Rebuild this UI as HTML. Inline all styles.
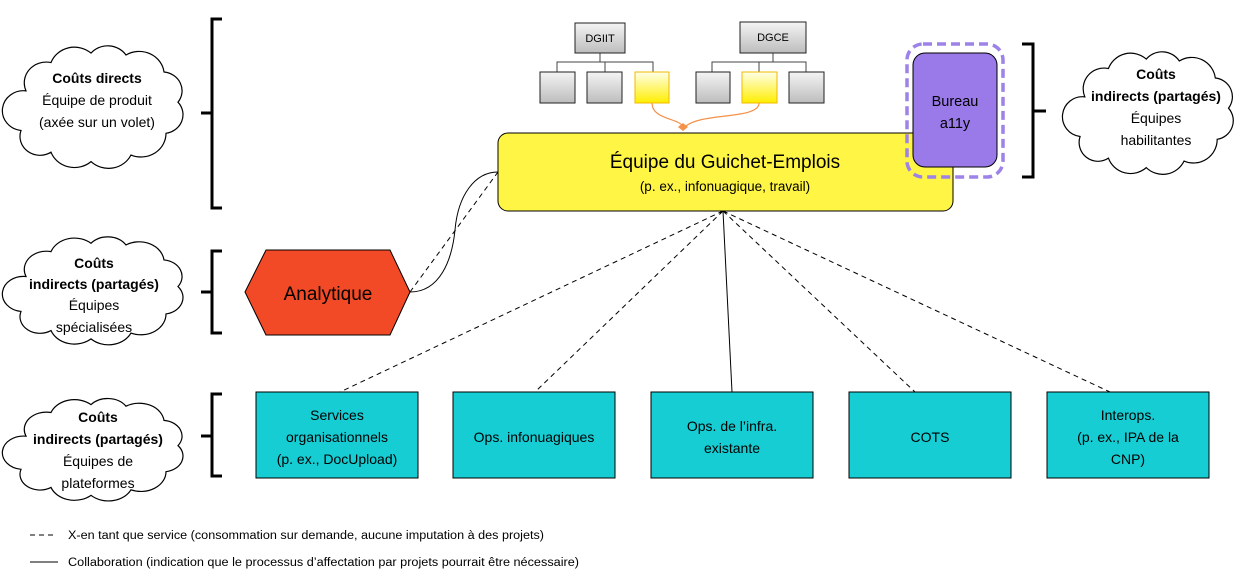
<!DOCTYPE html>
<html><head><meta charset="utf-8"><style>
html,body{margin:0;padding:0;background:#fff;}
svg{display:block;font-family:"Liberation Sans",sans-serif;}
</style></head><body>
<svg width="1241" height="583" viewBox="0 0 1241 583" xmlns="http://www.w3.org/2000/svg">
<defs>
<symbol id="cl" viewBox="-2 -6 184 142" preserveAspectRatio="none" overflow="visible">
<path d="M20,50 A22,22 0 0 1 45,20 A25,25 0 0 1 85,10 A22,22 0 0 1 120,12 A25,25 0 0 1 158,30 A20,20 0 0 1 172,62 A20,20 0 0 1 160,95 A25,25 0 0 1 125,118 A25,25 0 0 1 85,125 A25,25 0 0 1 45,115 A20,20 0 0 1 15,92 A20,20 0 0 1 20,50 Z" fill="#fff" stroke="#000" stroke-width="1.2" vector-effect="non-scaling-stroke"/>
</symbol>
<linearGradient id="g" x1="0" y1="0" x2="0" y2="1"><stop offset="0" stop-color="#f4f4f4"/><stop offset="1" stop-color="#bdbdbd"/></linearGradient>
<linearGradient id="y" x1="0" y1="0" x2="0" y2="1"><stop offset="0" stop-color="#ffffe8"/><stop offset="1" stop-color="#ffee00"/></linearGradient>
</defs>

<!-- clouds -->
<use href="#cl" x="4" y="38" width="184" height="134"/>
<use href="#cl" x="4" y="230" width="184" height="118"/>
<use href="#cl" x="4" y="392" width="184" height="112"/>
<use href="#cl" x="1064" y="44" width="174" height="134"/>

<g font-size="14" text-anchor="middle">
<text x="97" y="83" font-weight="bold">Coûts directs</text>
<text x="97" y="105">Équipe de produit</text>
<text x="97" y="127">(axée sur un volet)</text>

<text x="94" y="268" font-weight="bold">Coûts</text>
<text x="94" y="289" font-weight="bold">indirects (partagés)</text>
<text x="94" y="310">Équipes</text>
<text x="94" y="332">spécialisées</text>

<text x="98" y="422" font-weight="bold">Coûts</text>
<text x="98" y="444" font-weight="bold">indirects (partagés)</text>
<text x="98" y="466">Équipes de</text>
<text x="98" y="488">plateformes</text>

<text x="1156" y="79" font-weight="bold">Coûts</text>
<text x="1156" y="101" font-weight="bold">indirects (partagés)</text>
<text x="1156" y="123">Équipes</text>
<text x="1156" y="145">habilitantes</text>
</g>

<!-- brackets -->
<g fill="none" stroke="#000" stroke-width="3">
<path d="M222,19 H212 V208 H222 M212,113 H201"/>
<path d="M222,251 H212 V333 H222 M212,292 H201"/>
<path d="M222,394 H212 V476 H222 M212,436 H201"/>
<path d="M1022,44 H1033 V177 H1022 M1033,111 H1046"/>
</g>

<!-- org chart -->
<g stroke="#444" stroke-width="1" fill="none">
<path d="M600,53 V62 M557,72 V62 H653 V72 M605,62 V72"/>
<path d="M773,53 V62 M712,72 V62 H806 V72 M759,62 V72"/>
</g>
<g stroke="#222" stroke-width="1">
<rect x="575" y="23" width="50" height="30" fill="url(#g)"/>
<rect x="740" y="22" width="66" height="31" fill="url(#g)"/>
<rect x="540" y="72" width="35" height="31" fill="url(#g)"/>
<rect x="587" y="72" width="35" height="31" fill="url(#g)"/>
<rect x="696" y="72" width="34" height="31" fill="url(#g)"/>
<rect x="789" y="72" width="35" height="31" fill="url(#g)"/>
</g>
<rect x="635" y="72" width="34" height="31" fill="url(#y)" stroke="#f0b800"/>
<rect x="742" y="72" width="35" height="31" fill="url(#y)" stroke="#f0b800"/>
<g font-size="11" text-anchor="middle"><text x="600" y="42">DGIIT</text><text x="773" y="41">DGCE</text></g>
<path d="M652,103 C652,120 680,118 683,127 M759,103 C759,120 700,112 685,127" fill="none" stroke="#f4914a" stroke-width="1.2"/>
<path d="M678,127 L683,123 L688,127 L683,131 Z" fill="#f4914a"/>

<!-- connectors -->
<g stroke="#000" stroke-width="1" fill="none">
<g stroke-dasharray="5,4">
<path d="M723,211 L340,392 M723,211 L535,392 M723,211 L915,392 M723,211 L1110,392"/>
<path d="M410,292 L498,172"/>
<path d="M30,535 H56"/>
</g>
<path d="M723,211 L732,392"/>
<path d="M410,292 C440,292 452,260 455,230 C458,195 475,172 498,172"/>
<path d="M30,562 H58"/>
</g>

<!-- main yellow box -->
<rect x="498" y="133" width="455" height="78" rx="10" fill="#fff544" stroke="#000" stroke-width="1"/>
<text x="725" y="168" font-size="19" text-anchor="middle">Équipe du Guichet-Emplois</text>
<text x="725" y="191" font-size="13.5" text-anchor="middle">(p. ex., infonuagique, travail)</text>

<!-- bureau -->
<rect x="907" y="44" width="96" height="133" rx="16" fill="none" stroke="#9d82e8" stroke-width="3.5" stroke-dasharray="9,5"/>
<rect x="913" y="53" width="84" height="114" rx="12" fill="#9a79e9" stroke="#000" stroke-width="1"/>
<text x="955" y="106" font-size="14.5" text-anchor="middle">Bureau</text>
<text x="955" y="128" font-size="14.5" text-anchor="middle">a11y</text>

<!-- analytique -->
<polygon points="245,292 266,250 390,250 410,292 390,335 266,335" fill="#f24a27" stroke="#000" stroke-width="1"/>
<text x="328" y="300" font-size="19" text-anchor="middle">Analytique</text>

<!-- teal boxes -->
<g fill="#16cdd4" stroke="#000" stroke-width="1">
<rect x="256" y="392" width="162" height="86"/>
<rect x="453" y="392" width="162" height="86"/>
<rect x="651" y="392" width="162" height="86"/>
<rect x="849" y="392" width="162" height="86"/>
<rect x="1047" y="392" width="162" height="86"/>
</g>
<g font-size="14" text-anchor="middle">
<text x="337" y="420">Services</text>
<text x="337" y="442">organisationnels</text>
<text x="337" y="464">(p. ex., DocUpload)</text>
<text x="534" y="442">Ops. infonuagiques</text>
<text x="732" y="431">Ops. de l’infra.</text>
<text x="732" y="453">existante</text>
<text x="930" y="442">COTS</text>
<text x="1128" y="420">Interops.</text>
<text x="1128" y="442">(p. ex., IPA de la</text>
<text x="1128" y="464">CNP)</text>
</g>

<!-- legend -->
<g font-size="11.5">
<text x="68" y="539" textLength="476" lengthAdjust="spacingAndGlyphs">X-en tant que service (consommation sur demande, aucune imputation à des projets)</text>
<text x="68" y="566" textLength="511" lengthAdjust="spacingAndGlyphs">Collaboration (indication que le processus d’affectation par projets pourrait être nécessaire)</text>
</g>
</svg>
</body></html>
